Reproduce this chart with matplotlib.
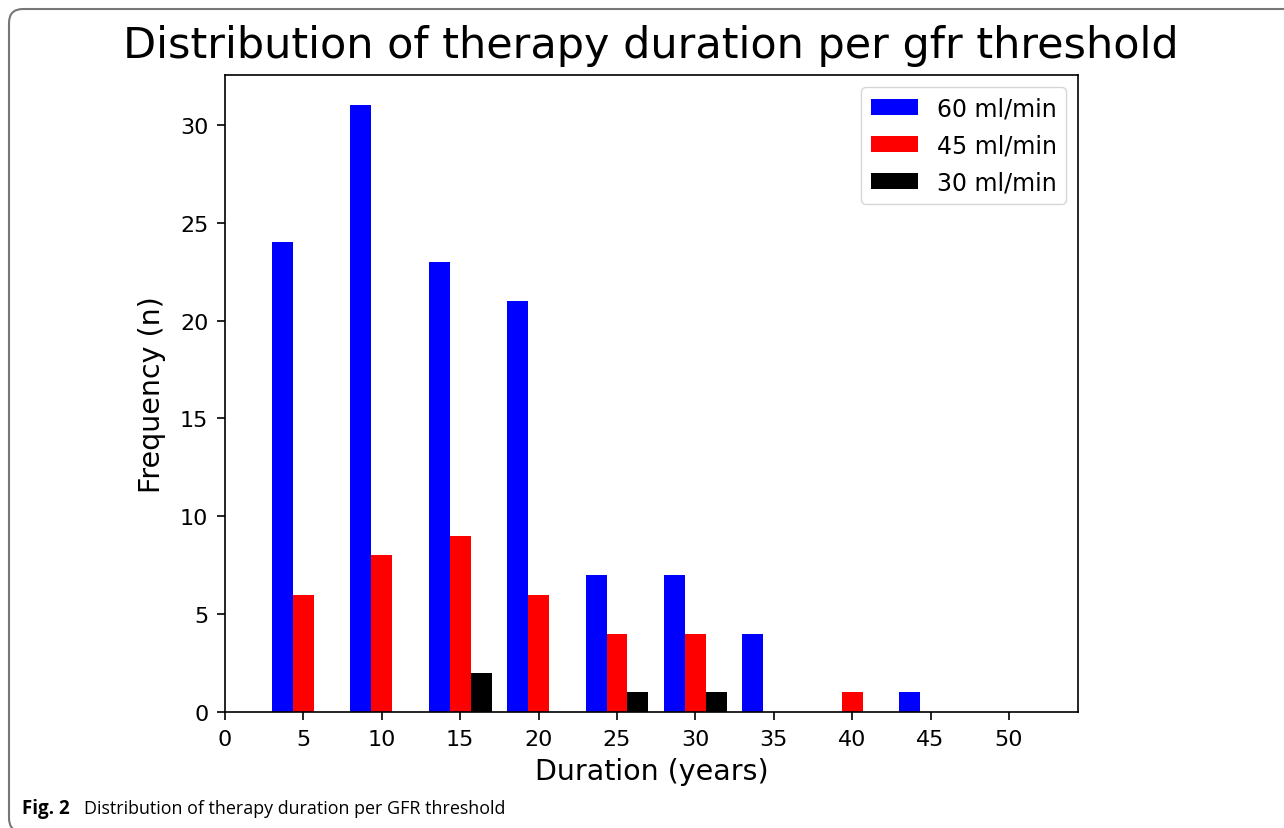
import numpy as np
import matplotlib
matplotlib.use("Agg")
import matplotlib.pyplot as plt
from matplotlib.patches import FancyBboxPatch

# bin centres (years) and counts per GFR threshold
durations = [5, 10, 15, 20, 25, 30, 35, 40, 45]
bin_edges = [2.5, 7.5, 12.5, 17.5, 22.5, 27.5, 32.5, 37.5, 42.5, 47.5]
counts_60 = [24, 31, 23, 21, 7, 7, 4, 0, 1]
counts_45 = [6, 8, 9, 6, 4, 4, 0, 1, 0]
counts_30 = [0, 0, 2, 0, 1, 1, 0, 0, 0]
labels = ["60 ml/min", "45 ml/min", "30 ml/min"]
colors = ["#0000ff", "#ff0000", "#000000"]
xticks = [0, 5, 10, 15, 20, 25, 30, 35, 40, 45, 50]

fig = plt.figure(figsize=(12.84, 8.29), dpi=100)
ax = fig.add_axes([225 / 1284, 116 / 829, 853 / 1284, 637 / 829])

ax.hist([durations] * 3, bins=bin_edges,
        weights=[counts_60, counts_45, counts_30],
        color=colors, label=labels)

ax.set_xlim(0, 54.4)
ax.set_ylim(0, 32.55)
ax.set_xticks(xticks)
ax.set_yticks([0, 5, 10, 15, 20, 25, 30])
ax.tick_params(labelsize=16, length=6, width=1.2, pad=6)
for s in ax.spines.values():
    s.set_linewidth(1.2)

ax.set_xlabel("Duration (years)", fontsize=20.5, labelpad=6)
ax.set_ylabel("Frequency (n)", fontsize=20.5, labelpad=10)
ax.legend(loc="upper right", fontsize=17, borderaxespad=0.5, labelspacing=0.55)

fig.text(651 / 1284, 1 - 46 / 829, "Distribution of therapy duration per gfr threshold",
         ha="center", va="center", fontsize=31)

# journal caption and frame
fig.text(22 / 1284, 1 - 814 / 829, "Fig. 2", fontsize=13.5, fontweight="bold",
         family="Open Sans", ha="left", va="baseline")
fig.text(84 / 1284, 1 - 814 / 829, "Distribution of therapy duration per GFR threshold",
         fontsize=12.9, family="Open Sans", ha="left", va="baseline")

frame = FancyBboxPatch((9, -4), 1400, 823, boxstyle="round,pad=0,rounding_size=14",
                       transform=None, facecolor="none", edgecolor="#777777",
                       linewidth=1.5)
fig.patches.append(frame)

fig.savefig("out.png", dpi=100)
